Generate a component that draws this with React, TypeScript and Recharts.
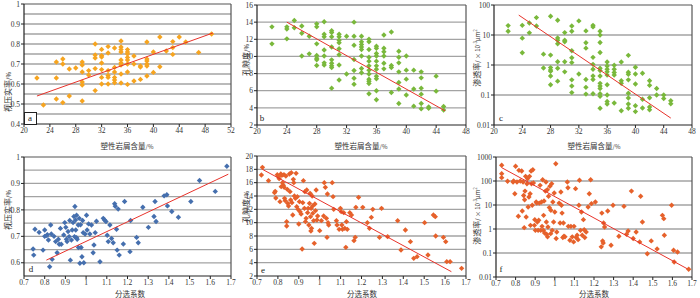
import React from 'react'
import { ScatterChart, Scatter, XAxis, YAxis, ReferenceLine } from 'recharts'

type Pt = [number, number]

// x ticks / y ticks
const lithicTicksA = [20, 24, 28, 32, 36, 40, 44, 48, 52]
const lithicTicks = [20, 24, 28, 32, 36, 40, 44, 48]
const sortTicks = [0.7, 0.8, 0.9, 1, 1.1, 1.2, 1.3, 1.4, 1.5, 1.6, 1.7]
const compTicksA = [0.4, 0.5, 0.6, 0.7, 0.8, 0.9, 1]
const compGridA = [0.45, 0.5, 0.55, 0.6, 0.65, 0.7, 0.75, 0.8, 0.85, 0.9, 0.95]
const compTicksD = [0.6, 0.7, 0.8, 0.9, 1]
const compGridD = [0.6, 0.65, 0.7, 0.75, 0.8, 0.85, 0.9, 0.95]
const porTicksB = [2, 4, 6, 8, 10, 12, 14, 16]
const porGridB = [4, 6, 8, 10, 12, 14]
const porTicksE = [2, 4, 6, 8, 10, 12, 14, 16, 18, 20]
const porGridE = [4, 6, 8, 10, 12, 14, 16, 18]
const permTicksC = [0.01, 0.1, 1, 10, 100]
const permGridC = [0.1, 1, 10]
const permTicksF = [0.01, 0.1, 1, 10, 100, 1000]
const permGridF = [0.1, 1, 10, 100]

// a: 塑性岩屑含量 vs 视压实率
const pointsA: Pt[] = [
  [22, 0.63], [23, 0.495], [25, 0.71], [25, 0.63], [25, 0.525], [26, 0.725], [26, 0.7], [26, 0.507],
  [27, 0.675], [27, 0.54], [28, 0.68], [29, 0.71], [29, 0.695], [29, 0.66], [29, 0.61], [29, 0.595],
  [29, 0.515], [30, 0.667], [30, 0.645], [31, 0.8], [31, 0.745], [31, 0.73], [31, 0.677], [31, 0.567],
  [32, 0.773], [32, 0.742], [32, 0.735], [32, 0.705], [32, 0.672], [32, 0.633], [32, 0.6], [33, 0.787],
  [33, 0.755], [33, 0.667], [33, 0.643], [33, 0.633], [33, 0.6], [34, 0.78], [34, 0.683], [34, 0.66],
  [34, 0.633], [34, 0.62], [34, 0.606], [35, 0.815], [35, 0.785], [35, 0.772], [35, 0.76], [35, 0.72],
  [35, 0.705], [35, 0.695], [35, 0.65], [35, 0.605], [36, 0.772], [36, 0.76], [36, 0.75], [36, 0.733],
  [36, 0.72], [36, 0.7], [36, 0.66], [36, 0.598], [37, 0.74], [37, 0.7], [37, 0.615], [38, 0.69],
  [38, 0.685], [38, 0.623], [39, 0.81], [39, 0.725], [39, 0.715], [39, 0.7], [39, 0.69], [39, 0.64],
  [40, 0.76], [40, 0.658], [41, 0.835], [41, 0.686], [42, 0.765], [43, 0.812], [43, 0.782], [43, 0.748],
  [44, 0.835], [45, 0.81], [47, 0.758], [49, 0.85]
]
const trendA: Pt[] = [[22, 0.54], [49.2, 0.855]]

// b: 塑性岩屑含量 vs 孔隙度
const pointsB: Pt[] = [
  [22, 13.45], [22, 11.47], [24, 13.45], [24, 13.2], [24, 12.05], [25, 14.2], [25, 13.35], [26, 13.55],
  [26, 12.7], [26, 10.05], [27, 12.35], [27, 10.3], [28, 13.8], [28, 13.45], [28, 11.47], [28, 10.1],
  [28, 9.8], [28, 9.6], [28, 8.95], [29, 14.05], [29, 12.6], [29, 12.3], [29, 10.75], [29, 10.05],
  [29, 9.25], [29, 9.0], [30, 13.0], [30, 12.8], [30, 12.3], [30, 11.1], [30, 9.6], [30, 9.2],
  [30, 8.9], [30, 8.7], [30, 6.3], [31, 12.6], [31, 12.3], [31, 11.9], [31, 11.6], [31, 10.9],
  [31, 10.2], [31, 9.0], [31, 7.25], [32, 12.35], [32, 7.95], [33, 14.0], [33, 12.35], [33, 11.3],
  [33, 9.65], [33, 8.35], [33, 7.45], [33, 6.75], [34, 12.35], [34, 11.7], [34, 11.4], [34, 11.1],
  [34, 10.8], [34, 10.05], [34, 8.6], [34, 8.1], [35, 12.0], [35, 11.7], [35, 10.8], [35, 9.9],
  [35, 9.45], [35, 8.9], [35, 8.4], [35, 7.95], [35, 7.35], [35, 7.1], [35, 6.85], [35, 5.65],
  [36, 11.2], [36, 10.95], [36, 10.35], [36, 10.05], [36, 9.45], [36, 8.9], [36, 8.5], [36, 7.7],
  [36, 7.4], [36, 6.0], [36, 4.95], [37, 12.5], [37, 10.95], [37, 10.55], [37, 10.05], [37, 9.2],
  [37, 8.55], [38, 12.85], [38, 8.95], [38, 8.7], [38, 5.8], [39, 10.6], [39, 9.9], [39, 9.25],
  [39, 8.2], [39, 6.95], [39, 6.2], [39, 4.5], [40, 10.05], [40, 8.4], [40, 7.35], [40, 5.5],
  [41, 8.4], [41, 6.2], [41, 4.2], [42, 8.2], [42, 7.5], [42, 6.3], [42, 5.6], [42, 4.5], [42, 3.9],
  [43, 4.1], [43, 3.95], [44, 7.7], [44, 5.95], [45, 4.15], [45, 3.75]
]
const trendB: Pt[] = [[24, 14.0], [45.2, 3.65]]

// c: 塑性岩屑含量 vs 渗透率
const pointsC: Pt[] = [
  [22, 20.6], [22, 13.4], [24, 21], [24, 7.85], [24, 2.57], [25, 25], [25, 11.8], [26, 38], [26, 20],
  [27, 2.3], [27, 0.79], [28, 42], [28, 2.14], [28, 0.82], [28, 0.68], [28, 0.62], [28, 0.43], [28, 0.22],
  [29, 31], [29, 8.0], [29, 6.7], [29, 5.1], [29, 1.29], [29, 0.78], [29, 0.29], [30, 12], [30, 6.7],
  [30, 5.9], [30, 1.29], [30, 0.59], [31, 20], [31, 13.4], [31, 3.0], [31, 1.75], [31, 1.2], [31, 0.32],
  [31, 0.2], [31, 0.12], [32, 29.5], [32, 0.5], [33, 13.7], [33, 5.5], [33, 3.65], [33, 0.33], [33, 0.18],
  [33, 0.107], [34, 21], [34, 18.6], [34, 1.8], [34, 1.05], [34, 0.72], [34, 0.43], [34, 0.33], [34, 0.11],
  [35, 13.4], [35, 10], [35, 5.6], [35, 2.6], [35, 0.78], [35, 0.65], [35, 0.43], [35, 0.245], [35, 0.2],
  [35, 0.164], [35, 0.11], [35, 0.09], [35, 0.036], [36, 1.26], [36, 0.93], [36, 0.72], [36, 0.59],
  [36, 0.46], [36, 0.22], [36, 0.1], [36, 0.061], [36, 0.05], [37, 0.98], [37, 0.72], [37, 0.56],
  [37, 0.46], [37, 0.054], [38, 1.26], [38, 0.3], [38, 0.245], [38, 0.03], [39, 2.1], [39, 0.57],
  [39, 0.49], [39, 0.32], [39, 0.115], [39, 0.079], [39, 0.05], [39, 0.036], [40, 0.84], [40, 0.5],
  [40, 0.233], [40, 0.044], [40, 0.028], [41, 0.53], [41, 0.072], [41, 0.037], [42, 0.3], [42, 0.21],
  [42, 0.081], [42, 0.04], [42, 0.032], [43, 0.164], [43, 0.1], [44, 0.1], [44, 0.076], [45, 0.064],
  [45, 0.051]
]
const trendC: Pt[] = [[23.5, 46], [45, 0.017]]

// d: 分选系数 vs 视压实率
const pointsD: Pt[] = [
  [0.744, 0.652], [0.747, 0.629], [0.753, 0.727], [0.773, 0.715], [0.792, 0.648], [0.8, 0.724], [0.8, 0.7],
  [0.81, 0.703], [0.813, 0.706], [0.818, 0.686], [0.824, 0.585], [0.829, 0.743], [0.832, 0.709],
  [0.836, 0.613], [0.845, 0.7], [0.853, 0.68], [0.86, 0.638], [0.866, 0.689], [0.87, 0.67], [0.876, 0.73],
  [0.88, 0.67], [0.892, 0.705], [0.897, 0.752], [0.902, 0.734], [0.905, 0.689], [0.908, 0.68],
  [0.913, 0.718], [0.918, 0.699], [0.921, 0.76], [0.924, 0.61], [0.929, 0.686], [0.933, 0.724],
  [0.937, 0.752], [0.941, 0.775], [0.944, 0.699], [0.946, 0.813], [0.949, 0.762], [0.95, 0.724],
  [0.954, 0.695], [0.954, 0.78], [0.957, 0.689], [0.962, 0.743], [0.963, 0.658], [0.967, 0.768],
  [0.97, 0.598], [0.973, 0.744], [0.976, 0.658], [0.98, 0.623], [0.983, 0.76], [0.986, 0.714],
  [0.989, 0.6], [0.995, 0.709], [1.002, 0.78], [1.005, 0.724], [1.012, 0.747], [1.018, 0.709],
  [1.026, 0.743], [1.034, 0.638], [1.038, 0.667], [1.044, 0.714], [1.05, 0.757], [1.067, 0.604],
  [1.083, 0.768], [1.089, 0.762], [1.096, 0.756], [1.102, 0.704], [1.107, 0.68], [1.115, 0.743],
  [1.123, 0.692], [1.131, 0.676], [1.138, 0.823], [1.141, 0.814], [1.147, 0.727], [1.15, 0.648],
  [1.155, 0.803], [1.16, 0.629], [1.18, 0.671], [1.186, 0.832], [1.212, 0.642], [1.215, 0.76],
  [1.244, 0.696], [1.252, 0.676], [1.274, 0.81], [1.301, 0.734], [1.328, 0.775], [1.333, 0.832],
  [1.338, 0.756], [1.377, 0.853], [1.39, 0.857], [1.393, 0.815], [1.414, 0.794], [1.446, 0.772],
  [1.506, 0.832], [1.548, 0.911], [1.624, 0.87], [1.68, 0.965]
]
const trendD: Pt[] = [[0.808, 0.61], [1.687, 0.935]]

// e: 分选系数 vs 孔隙度
const pointsE: Pt[] = [
  [0.721, 17.15], [0.726, 18.3], [0.755, 16.3], [0.784, 14.5], [0.787, 14.7], [0.79, 13.7], [0.797, 17.2],
  [0.803, 16.9], [0.806, 16.6], [0.81, 13.15], [0.814, 17.3], [0.816, 15.4], [0.819, 17.1], [0.822, 16.0],
  [0.826, 15.6], [0.829, 17.2], [0.83, 15.3], [0.832, 13.65], [0.835, 13.3], [0.838, 17.0], [0.842, 10.15],
  [0.842, 9.5], [0.845, 15.0], [0.847, 12.9], [0.851, 12.5], [0.855, 17.3], [0.858, 14.65], [0.861, 13.4],
  [0.864, 17.5], [0.867, 13.0], [0.871, 11.15], [0.874, 16.5], [0.876, 16.0], [0.879, 14.0], [0.884, 13.65],
  [0.887, 17.4], [0.89, 12.4], [0.893, 13.9], [0.896, 12.0], [0.9, 9.8], [0.903, 13.15], [0.906, 11.65],
  [0.911, 11.3], [0.916, 6.05], [0.919, 13.0], [0.922, 16.3], [0.927, 12.15], [0.929, 14.65], [0.932, 10.15],
  [0.935, 10.65], [0.938, 14.9], [0.942, 11.5], [0.945, 12.15], [0.948, 9.65], [0.951, 12.9], [0.954, 14.4],
  [0.956, 10.9], [0.958, 8.75], [0.959, 12.15], [0.961, 9.15], [0.964, 14.0], [0.966, 12.5], [0.967, 11.4],
  [0.971, 10.3], [0.974, 6.9], [0.977, 12.8], [0.98, 11.8], [0.983, 14.9], [0.987, 10.4], [0.99, 11.0],
  [1.0, 8.8], [1.008, 10.3], [1.019, 11.0], [1.022, 16.0], [1.027, 15.3], [1.032, 10.65], [1.035, 7.8],
  [1.037, 14.3], [1.04, 10.0], [1.043, 9.65], [1.06, 16.0], [1.064, 13.9], [1.067, 12.0], [1.08, 10.3],
  [1.083, 9.65], [1.093, 9.0], [1.099, 12.15], [1.103, 11.65], [1.106, 9.65], [1.109, 9.0], [1.115, 11.5],
  [1.12, 9.15], [1.125, 6.3], [1.128, 10.15], [1.132, 9.0], [1.144, 11.5], [1.152, 11.15], [1.164, 7.3],
  [1.17, 7.8], [1.173, 12.3], [1.186, 13.8], [1.206, 12.3], [1.228, 10.0], [1.238, 9.15], [1.247, 10.8],
  [1.254, 12.0], [1.286, 7.8], [1.296, 12.15], [1.325, 7.9], [1.373, 10.3], [1.389, 5.9], [1.41, 8.9],
  [1.434, 7.15], [1.45, 4.65], [1.466, 4.9], [1.518, 5.15], [1.502, 10.0], [1.544, 11.15], [1.553, 10.9],
  [1.555, 8.0], [1.592, 7.8], [1.603, 7.15], [1.608, 4.15], [1.624, 4.15], [1.679, 3.15]
]
const trendE: Pt[] = [[0.726, 18.0], [1.63, 2.65]]

// f: 分选系数 vs 渗透率
const pointsF: Pt[] = [
  [0.729, 450], [0.729, 202], [0.729, 138], [0.759, 97], [0.787, 91], [0.79, 100], [0.796, 29.5], [0.8, 410],
  [0.807, 91], [0.814, 3.4], [0.817, 278], [0.824, 100], [0.831, 261], [0.834, 5.6], [0.838, 91], [0.841, 25],
  [0.844, 1.14], [0.846, 16.6], [0.848, 38], [0.851, 156], [0.854, 3.16], [0.858, 77], [0.861, 125],
  [0.864, 8.25], [0.868, 21.5], [0.871, 156], [0.874, 29.5], [0.876, 1.42], [0.879, 261], [0.881, 77],
  [0.885, 9.7], [0.888, 295], [0.891, 83], [0.896, 1.42], [0.898, 2.45], [0.901, 0.88], [0.905, 13.3],
  [0.908, 12], [0.911, 1.95], [0.915, 0.88], [0.918, 2.3], [0.921, 12], [0.925, 66], [0.928, 0.88],
  [0.932, 13.3], [0.935, 1.29], [0.938, 113], [0.942, 0.88], [0.943, 3.7], [0.945, 14.7], [0.948, 0.68],
  [0.952, 38], [0.955, 91], [0.957, 1.95], [0.958, 0.6], [0.962, 43], [0.963, 0.47], [0.965, 1.21],
  [0.968, 23], [0.972, 7.8], [0.975, 60], [0.979, 0.64], [0.98, 6], [0.984, 77], [0.987, 0.88],
  [0.99, 13.3], [0.994, 1.95], [0.997, 31.6], [1.0, 5.1], [1.005, 520], [1.007, 0.4], [1.01, 0.75],
  [1.022, 12], [1.027, 1.78], [1.031, 34.6], [1.034, 9.7], [1.037, 4.6], [1.041, 0.44], [1.044, 1.78],
  [1.047, 0.5], [1.052, 0.47], [1.064, 91], [1.067, 52], [1.069, 1.29], [1.077, 0.34], [1.082, 1.29],
  [1.089, 0.47], [1.096, 0.29], [1.098, 1.29], [1.106, 48], [1.109, 0.44], [1.114, 0.55], [1.119, 0.36],
  [1.123, 9.7], [1.126, 107], [1.131, 0.88], [1.136, 5.1], [1.14, 0.55], [1.146, 2.45], [1.15, 0.93],
  [1.153, 0.44], [1.16, 0.75], [1.17, 8.25], [1.176, 29.5], [1.183, 113], [1.187, 11.4], [1.207, 13.3],
  [1.237, 0.18], [1.24, 4.6], [1.244, 0.32], [1.247, 0.26], [1.249, 1.78], [1.254, 1.21], [1.27, 5.6],
  [1.287, 0.21], [1.297, 9.7], [1.327, 0.5], [1.353, 8.8], [1.366, 0.6], [1.374, 0.83], [1.391, 38],
  [1.4, 0.4], [1.415, 0.75], [1.433, 0.29], [1.438, 23], [1.447, 1.95], [1.472, 0.093], [1.492, 0.32],
  [1.522, 0.148], [1.549, 3.7], [1.556, 2.7], [1.559, 0.55], [1.596, 9.7], [1.606, 0.13], [1.609, 0.042],
  [1.626, 0.11], [1.683, 0.021]
]
const trendF: Pt[] = [[0.729, 360], [1.676, 0.022]]

const ORANGE = '#f6a41f'
const GREEN = '#79b83b'
const BLUE = '#456fae'
const RED_ORANGE = '#e6612b'
const TREND = '#e8332b'

const serif = '"Liberation Serif", "DejaVu Serif", serif'
const cjk = '"Noto Sans CJK SC", "Noto Sans", sans-serif'

function Diamond(props: any) {
  const { cx, cy, fill } = props
  if (cx == null || cy == null) return <g />
  const r = 2.7
  return (
    <polygon
      points={`${cx},${cy - r} ${cx + r},${cy} ${cx},${cy + r} ${cx - r},${cy}`}
      fill={fill}
    />
  )
}

interface PanelProps {
  left: number
  top: number
  w: number
  h: number
  points: Pt[]
  trend: Pt[]
  color: string
  xDomain: [number, number]
  xTicks: number[]
  yDomain: [number, number]
  yTicks: number[]
  grid: number[]
  log?: boolean
}

function Panel({ left, top, w, h, points, trend, color, xDomain, xTicks, yDomain, yTicks, grid, log }: PanelProps) {
  const data = points.map(([x, y]) => ({ x, y }))
  const line = trend.map(([x, y]) => ({ x, y }))
  const tick = { fontSize: 7.5, fill: '#333', fontFamily: serif }
  return (
    <div style={{ position: 'absolute', left: left - 40, top: top - 5 }}>
      <ScatterChart width={w + 46} height={h + 35} margin={{ top: 5, right: 6, left: 0, bottom: 0 }}>
        <XAxis
          type='number'
          dataKey='x'
          domain={xDomain}
          ticks={xTicks}
          interval={0}
          allowDataOverflow
          height={30}
          tickSize={3}
          tickMargin={1}
          tick={tick}
          axisLine={{ stroke: '#222', strokeWidth: 1.2 }}
          tickLine={{ stroke: '#222' }}
        />
        <YAxis
          type='number'
          dataKey='y'
          domain={yDomain}
          ticks={yTicks}
          interval={0}
          scale={log ? 'log' : 'auto'}
          allowDataOverflow
          width={40}
          tickSize={3}
          tickMargin={1}
          tick={tick}
          axisLine={{ stroke: '#222', strokeWidth: 1.2 }}
          tickLine={{ stroke: '#222' }}
        />
        {grid.map((v) => (
          <ReferenceLine key={v} y={v} stroke='#a3a3a3' strokeWidth={1.3} />
        ))}
        <ReferenceLine y={yDomain[1]} stroke='#555' strokeWidth={1.2} />
        <ReferenceLine x={xDomain[1]} stroke='#555' strokeWidth={1.2} />
        <Scatter data={data} fill={color} shape={Diamond} isAnimationActive={false} />
        <Scatter
          data={line}
          line={{ stroke: TREND, strokeWidth: 1 }}
          shape={() => <g />}
          isAnimationActive={false}
        />
      </ScatterChart>
    </div>
  )
}

function YTitle({ x, y, children }: { x: number; y: number; children: React.ReactNode }) {
  return (
    <div
      style={{
        position: 'absolute',
        left: x,
        top: y,
        transform: 'translate(-50%, -50%) rotate(-90deg)',
        whiteSpace: 'nowrap',
        fontFamily: cjk,
        fontSize: 8,
        color: '#333',
        lineHeight: 1
      }}
    >
      {children}
    </div>
  )
}

function XTitle({ x, y, children }: { x: number; y: number; children: React.ReactNode }) {
  return (
    <div
      style={{
        position: 'absolute',
        left: x,
        top: y,
        transform: 'translate(-50%, -50%)',
        whiteSpace: 'nowrap',
        fontFamily: cjk,
        fontSize: 7.5,
        color: '#333',
        lineHeight: 1
      }}
    >
      {children}
    </div>
  )
}

function Letter({ x, y, text }: { x: number; y: number; text: string }) {
  return (
    <div
      style={{
        position: 'absolute',
        left: x,
        top: y,
        transform: 'translate(-50%, -50%)',
        fontFamily: serif,
        fontSize: 9,
        color: '#222',
        lineHeight: 1
      }}
    >
      {text}
    </div>
  )
}

const pct = <span style={{ fontSize: 6 }}>/%</span>
const permLabel = (
  <span>
    渗透率<span style={{ fontSize: 6 }}>/ × 10<sup style={{ fontSize: 4.5 }}>-3</sup>μm<sup style={{ fontSize: 4.5 }}>2</sup></span>
  </span>
)

export default function App() {
  return (
    <div style={{ position: 'absolute', left: 0, top: 0, width: 700, height: 298, background: '#fff', overflow: 'hidden' }}>
      <Panel left={24} top={4} w={207} h={120} points={pointsA} trend={trendA} color={ORANGE}
        xDomain={[20, 52]} xTicks={lithicTicksA} yDomain={[0.4, 1]} yTicks={compTicksA} grid={compGridA} />
      <Panel left={257} top={5} w={209} h={120} points={pointsB} trend={trendB} color={GREEN}
        xDomain={[20, 48]} xTicks={lithicTicks} yDomain={[2, 16]} yTicks={porTicksB} grid={porGridB} />
      <Panel left={494} top={5} w={198} h={120} points={pointsC} trend={trendC} color={GREEN}
        xDomain={[20, 48]} xTicks={lithicTicks} yDomain={[0.01, 100]} yTicks={permTicksC} grid={permGridC} log />
      <Panel left={24} top={157} w={207} h={119} points={pointsD} trend={trendD} color={BLUE}
        xDomain={[0.7, 1.7]} xTicks={sortTicks} yDomain={[0.55, 1]} yTicks={compTicksD} grid={compGridD} />
      <Panel left={257} top={156} w={209} h={120} points={pointsE} trend={trendE} color={RED_ORANGE}
        xDomain={[0.7, 1.7]} xTicks={sortTicks} yDomain={[2, 20]} yTicks={porTicksE} grid={porGridE} />
      <Panel left={496} top={157} w={196} h={120} points={pointsF} trend={trendF} color={RED_ORANGE}
        xDomain={[0.7, 1.7]} xTicks={sortTicks} yDomain={[0.01, 1000]} yTicks={permTicksF} grid={permGridF} log />

      <YTitle x={8} y={92}>视压实率{pct}</YTitle>
      <YTitle x={246} y={60}>孔隙度{pct}</YTitle>
      <YTitle x={477} y={58}>{permLabel}</YTitle>
      <YTitle x={8} y={210}>视压实率{pct}</YTitle>
      <YTitle x={246} y={207}>孔隙度{pct}</YTitle>
      <YTitle x={477} y={216}>{permLabel}</YTitle>

      <XTitle x={127} y={146}>塑性岩屑含量{pct}</XTitle>
      <XTitle x={361} y={146}>塑性岩屑含量{pct}</XTitle>
      <XTitle x={594} y={146}>塑性岩屑含量{pct}</XTitle>
      <XTitle x={130} y={294}>分选系数</XTitle>
      <XTitle x={362} y={294}>分选系数</XTitle>
      <XTitle x={594} y={294}>分选系数</XTitle>

      <div style={{ position: 'absolute', left: 24, top: 112, width: 11, height: 11, border: '1px solid #222', background: '#fff' }} />
      <Letter x={30} y={118} text='a' />
      <Letter x={262} y={118} text='b' />
      <Letter x={501} y={118} text='c' />
      <Letter x={31} y={269} text='d' />
      <Letter x={263} y={270} text='e' />
      <Letter x={501} y={269} text='f' />
    </div>
  )
}
